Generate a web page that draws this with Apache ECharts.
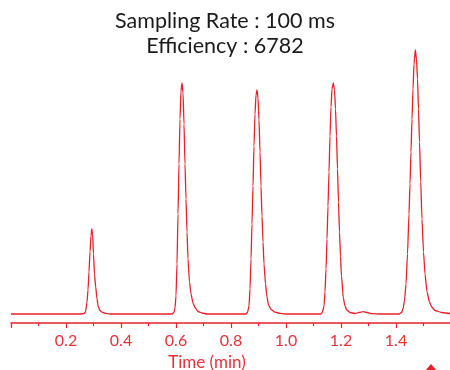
<!DOCTYPE html>
<html>
<head>
<meta charset="utf-8">
<script src="https://cdn.jsdelivr.net/npm/echarts@6/dist/echarts.min.js"></script>
<style>html,body{margin:0;padding:0;background:#fff;}#chart{width:450px;height:370px;}</style>
</head>
<body>
<div id="chart"></div>
<script>
// Chart texts
const titleLines = ['Sampling Rate : 100 ms', 'Efficiency : 6782'];
const xAxisName = 'Time (min)';
const xTickValues = [0.2, 0.4, 0.6, 0.8, 1.0, 1.2, 1.4];

// Chromatogram trace: time (min) and detector signal (arbitrary units)
const baselineStart = [[0, 0], [0.2509, 0]];
const peak1 = [[0.2655,0.5],[0.2709,2],[0.2764,12],[0.2800,24],[0.2836,42],[0.2873,62],[0.2909,78],[0.2938,85],[0.2967,80],[0.3000,60],[0.3036,40],[0.3080,27],[0.3127,15],[0.3175,7],[0.3236,3.5],[0.3309,1.8],[0.3418,0.8],[0.3600,0]];
const peak2 = [[0.5855,0],[0.5927,1.5],[0.5964,6],[0.6000,18],[0.6036,50],[0.6073,100],[0.6109,150],[0.6145,195],[0.6182,223],[0.6218,231],[0.6255,221],[0.6291,190],[0.6327,150],[0.6364,115],[0.6400,82],[0.6436,55],[0.6491,32],[0.6545,20],[0.6618,11],[0.6691,6.5],[0.6800,2.5],[0.6945,1],[0.7127,0]];
const peak3 = [[0.8545,0],[0.8600,1.5],[0.8655,8],[0.8691,25],[0.8727,55],[0.8764,90],[0.8800,128],[0.8836,168],[0.8873,200],[0.8909,219],[0.8945,224],[0.8982,216],[0.9018,194],[0.9055,162],[0.9091,128],[0.9127,98],[0.9164,72],[0.9200,50],[0.9255,30],[0.9309,17],[0.9364,9],[0.9455,4.5],[0.9600,1.8],[0.9782,0.7],[0.9964,0]];
const peak4 = [[1.1273,0],[1.1327,2],[1.1382,8],[1.1418,22],[1.1455,45],[1.1491,75],[1.1527,108],[1.1564,142],[1.1600,178],[1.1636,207],[1.1673,225],[1.1720,231],[1.1764,224],[1.1800,205],[1.1836,178],[1.1873,145],[1.1909,112],[1.1945,82],[1.1982,58],[1.2018,38],[1.2084,16],[1.2145,8],[1.2207,4],[1.2327,1.5],[1.2509,0.5],[1.2655,1.5],[1.2811,2.3],[1.2945,1.5],[1.3127,0.3],[1.3418,0]];
const peak5 = [[1.4109,0],[1.4200,1.5],[1.4255,5],[1.4309,13],[1.4364,30],[1.4418,60],[1.4473,100],[1.4509,130],[1.4545,162],[1.4582,195],[1.4618,225],[1.4655,250],[1.4702,264],[1.4745,255],[1.4782,235],[1.4818,205],[1.4855,172],[1.4898,132],[1.4945,95],[1.5000,62],[1.5055,40],[1.5127,22],[1.5218,12],[1.5298,7],[1.5418,3.5],[1.5662,1.5],[1.5964,0.5],[1.6,0.4]];

const trace = [].concat(baselineStart, peak1, peak2, peak3, peak4, peak5);

const RED = '#e8202a';
const LABEL_RED = '#e5333a';

const chart = echarts.init(document.getElementById('chart'), null, {renderer: 'canvas'});
chart.setOption({
  animation: false,
  backgroundColor: '#ffffff',
  title: {
    text: titleLines.join('\n'),
    left: 'center',
    top: 9,
    padding: 0,
    textStyle: {fontFamily: 'Lato', fontSize: 21.5, fontWeight: 'normal', color: '#1a1a1a', lineHeight: 25}
  },
  grid: {left: 11, right: -1, top: 14, bottom: 47, containLabel: false, outerBoundsMode: 'none'},
  xAxis: {
    type: 'value',
    min: 0,
    max: 1.6,
    interval: 0.2,
    name: xAxisName,
    nameLocation: 'middle',
    nameGap: 28,
    nameTextStyle: {fontFamily: 'Lato', fontSize: 17, color: LABEL_RED, padding: [0, 48, 0, 0]},
    axisLine: {show: true, onZero: false, lineStyle: {color: RED, width: 1.5}},
    axisTick: {show: true, length: 5, lineStyle: {color: RED, width: 1.2}},
    minorTick: {show: true, splitNumber: 2, length: 3, lineStyle: {color: RED, width: 1.2}},
    splitLine: {show: false},
    axisLabel: {
      fontFamily: 'Lato', fontSize: 16, color: LABEL_RED, margin: 10,
      showMinLabel: false, showMaxLabel: false,
      formatter: function (v) {
        const hit = xTickValues.find(function (t) { return Math.abs(t - v) < 1e-6; });
        return hit === undefined ? '' : hit.toFixed(1);
      }
    }
  },
  yAxis: {
    type: 'value',
    min: -9,
    max: 300,
    show: false
  },
  series: [{
    type: 'line',
    data: trace,
    showSymbol: false,
    symbol: 'none',
    smooth: 0.2,
    smoothMonotone: 'x',
    lineStyle: {color: RED, width: 1.3},
    clip: false
  }],
  graphic: [{
    type: 'polygon',
    shape: {points: [[425, 371], [431, 364], [437, 371]]},
    style: {fill: RED}
  }]
});
</script>
</body>
</html>
